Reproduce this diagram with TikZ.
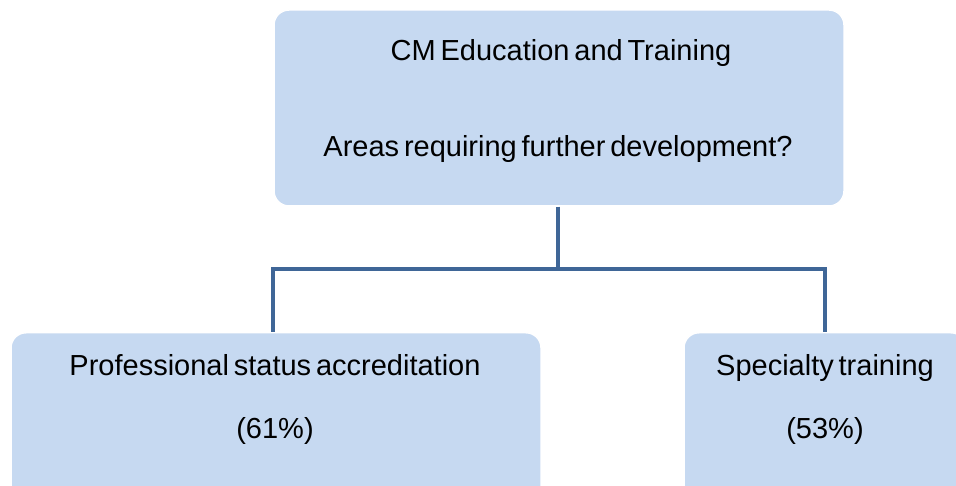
\documentclass[tikz,border=0pt]{standalone}
\usepackage{fontspec}
\setmainfont{Liberation Sans}[WordSpace=0.6]
\usepackage{tikz}
\usetikzlibrary{positioning}
\definecolor{boxblue}{RGB}{198,217,241}
\definecolor{linkblue}{RGB}{63,102,151}

\begin{document}
\begin{tikzpicture}[x=1pt, y=-1pt,
    box/.style={fill=boxblue, draw=white, line width=1.5pt, rounded corners=15pt},
    txt/.style={font=\fontsize{29}{35}\selectfont, inner sep=0pt, anchor=base},
    link/.style={draw=linkblue, line width=4pt}]
    \useasboundingbox (0,0) rectangle (956,486);
    \clip (0,0) rectangle (956,486);
    % boxes
    \node[box, minimum width=570pt, minimum height=196pt] (top) at (559,108) {};
    \node[box, minimum width=530pt, minimum height=200pt, anchor=north] (left) at (276,332) {};
    \node[box, minimum width=282pt, minimum height=200pt, anchor=north] (right) at (825,332) {};
    % texts
    \node[txt] (title) at (561,61) {CM Education and Training};
    \node[txt] (question) at (558,157) {Areas requiring further development?};
    \node[txt] (prof) at (275,375) {Professional status accreditation};
    \node[txt] (profpc) at (275,438) {(61\%)};
    \node[txt] (spec) at (825,375) {Specialty training};
    \node[txt] (specpc) at (825,438) {(53\%)};
    % connectors
    \coordinate (fork) at (558,269);
    \draw[link] (top.south -| fork) -- (fork);
    \draw[link] (left.north -| 273,0) |- (fork) -| (right.north);
\end{tikzpicture}
\end{document}
